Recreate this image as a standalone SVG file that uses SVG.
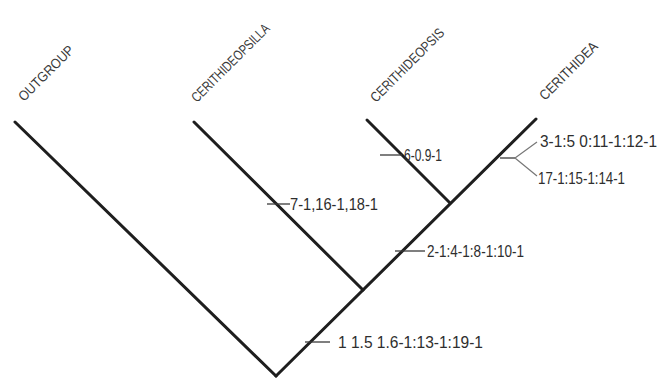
<svg xmlns="http://www.w3.org/2000/svg" width="671" height="381" viewBox="0 0 671 381">
<style>
.br{stroke:#1e1e1e;stroke-width:3;stroke-linecap:round;fill:none}
.tk{stroke:#3a3a3a;stroke-width:1.3;fill:none}
.fk{stroke:#777;stroke-width:1.2;fill:none}
.tx{font-family:"Liberation Sans",Arial,sans-serif;font-size:14px;fill:#3a3a3a}
.an{font-family:"Liberation Sans",Arial,sans-serif;font-size:17px;fill:#2e2e2e}
</style>
<rect width="671" height="381" fill="#ffffff"/>
<g id="connectors">
<line class="br" x1="15" y1="122" x2="276" y2="376"/>
<line class="br" x1="276" y1="376" x2="536" y2="119"/>
<line class="br" x1="194" y1="122" x2="363" y2="290"/>
<line class="br" x1="367" y1="120" x2="450" y2="203"/>
</g>
<g id="outgroup"><text class="tx" transform="translate(24,102) rotate(-45)" textLength="72" lengthAdjust="spacingAndGlyphs">OUTGROUP</text></g>
<g id="cerithideopsilla"><text class="tx" transform="translate(197,103) rotate(-45)" textLength="104" lengthAdjust="spacingAndGlyphs">CERITHIDEOPSILLA</text></g>
<g id="cerithideopsis"><text class="tx" transform="translate(376,103) rotate(-45)" textLength="98" lengthAdjust="spacingAndGlyphs">CERITHIDEOPSIS</text></g>
<g id="cerithidea"><text class="tx" transform="translate(545,101) rotate(-45)" textLength="76" lengthAdjust="spacingAndGlyphs">CERITHIDEA</text></g>
<g id="characters">
<line class="tk" x1="380" y1="155" x2="402" y2="155"/>
<text class="an" x="404" y="161" textLength="38" lengthAdjust="spacingAndGlyphs">6-0.9-1</text>
<line class="tk" x1="267" y1="204" x2="290" y2="204"/>
<text class="an" x="290" y="210" textLength="88" lengthAdjust="spacingAndGlyphs">7-1,16-1,18-1</text>
<line class="tk" x1="395" y1="251" x2="425" y2="251"/>
<text class="an" x="427" y="257" textLength="97" lengthAdjust="spacingAndGlyphs">2-1:4-1:8-1:10-1</text>
<line class="tk" x1="305" y1="342" x2="330" y2="342"/>
<text class="an" x="338" y="348" textLength="145" lengthAdjust="spacingAndGlyphs">1 1.5 1.6-1:13-1:19-1</text>
<line class="tk" x1="500" y1="158" x2="515" y2="158"/>
<polyline class="fk" points="537,142 515,158 537,176"/>
<text class="an" x="540" y="147" textLength="117" lengthAdjust="spacingAndGlyphs">3-1:5 0:11-1:12-1</text>
<text class="an" x="538" y="184" textLength="87" lengthAdjust="spacingAndGlyphs">17-1:15-1:14-1</text>
</g>
</svg>
